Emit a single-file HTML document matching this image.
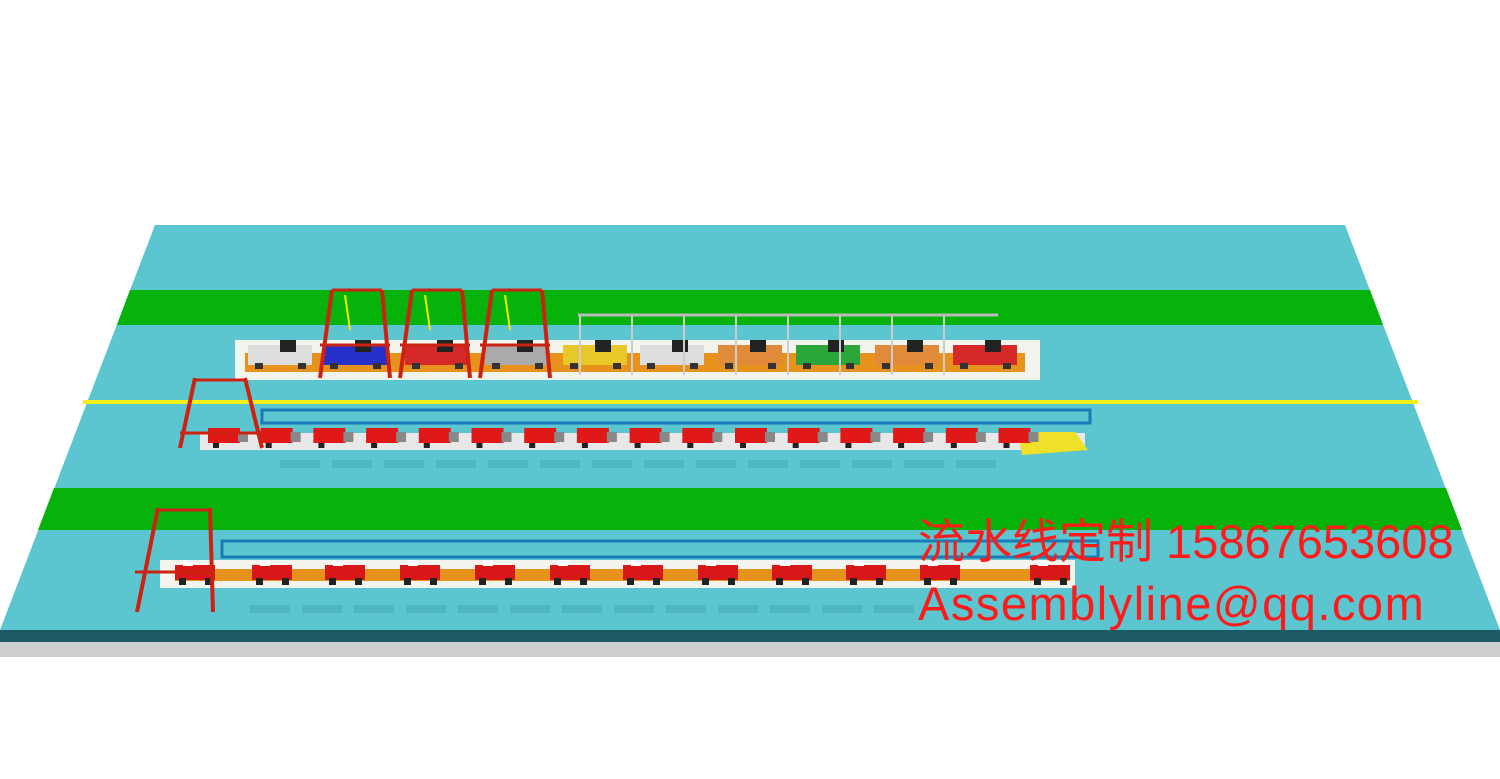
<!DOCTYPE html>
<html><head><meta charset="utf-8"><style>
html,body{margin:0;padding:0;background:#fff;width:1500px;height:779px;overflow:hidden}
svg{position:absolute;left:0;top:0}
.t{position:absolute;left:918px;color:#ff1a1a;font-family:"Liberation Sans","Noto Sans CJK SC",sans-serif;font-size:47px;white-space:nowrap;line-height:1}
</style></head><body>
<svg id="s" width="1500" height="779" viewBox="0 0 1500 779">
<rect x="0" y="630" width="1500" height="27" fill="#cfcfcf"/>
<rect x="0" y="630" width="1500" height="12" fill="#1c5a66"/>
<polygon points="155,225 1345,225 1500,630 0,630" fill="#5bc6d0"/>
<polygon points="130,290 1370,290 1383,325 117,325" fill="#07b20b"/>
<polygon points="54,488 1446,488 1462,530 38,530" fill="#07b20b"/>
<rect x="83" y="400" width="1335" height="4" fill="#f2ef1a"/>
<rect x="235" y="340" width="805" height="40" fill="#f4f4ee"/>
<rect x="245" y="353" width="780" height="19" fill="#e8921e"/>
<rect x="200" y="433" width="885" height="17" fill="#e8e8e8"/>
<polygon points="1018,432 1075,432 1088,450 1022,455" fill="#f0e02a"/>
<rect x="262" y="410" width="828" height="13" fill="none" stroke="#1a7ab8" stroke-width="3"/>
<rect x="160" y="560" width="915" height="28" fill="#f4f4ee"/>
<rect x="175" y="569" width="895" height="12" fill="#e8921e"/>
<rect x="222" y="541" width="876" height="16" fill="none" stroke="#1a7ab8" stroke-width="3"/>
<g id="g"></g>
<line x1="578" y1="315" x2="998" y2="315" stroke="#bbb" stroke-width="3"/>
</svg>
<div class="t" style="top:518px">流水线定制 15867653608</div>
<div class="t" style="top:580px;letter-spacing:1.5px">Assemblyline@qq.com</div>
<script>
var g=document.getElementById('g'),h='';
function r(x,y,w,hh,c){h+='<rect x="'+x+'" y="'+y+'" width="'+w+'" height="'+hh+'" fill="'+c+'"/>';}
function l(a,b,c,d,col,w){h+='<line x1="'+a+'" y1="'+b+'" x2="'+c+'" y2="'+d+'" stroke="'+col+'" stroke-width="'+w+'"/>';}
var c1=[280,355,437,517,595,672,750,828,907,985],cc=['#ddd','#2730c8','#d52828','#aaa','#e8c828','#ddd','#e08a3a','#2aa63a','#e08a3a','#d52828'];
c1.forEach(function(x,i){r(x-32,345,64,20,cc[i]);r(x,340,16,12,'#222');r(x-25,363,8,6,'#333');r(x+18,363,8,6,'#333');});
for(var x=580;x<=995;x+=52){l(x,315,x,375,'#ccc',2);}
[320,400,480].forEach(function(x){l(x+12,290,x,378,'#c21','4');l(x+62,290,x+70,378,'#c21',4);l(x+12,290,x+62,290,'#c21',3);l(x,345,x+70,345,'#c21',3);l(x+25,295,x+30,330,'#ee0',2);});
for(var x=228;x<=1020;x+=52.7){r(x-20,428,32,15,'#e01818');r(x+10,432,10,10,'#888');r(x-15,443,6,5,'#222');}
l(195,378,180,448,'#c21',4);l(245,378,262,448,'#c21',4);l(195,380,245,380,'#c21',3);l(180,433,262,433,'#c21',3);
[195,272,345,420,495,570,643,718,792,866,940,1050].forEach(function(x){r(x-20,565,40,15,'#d81818');r(x-12,560,10,6,'#fff');r(x-16,578,7,7,'#222');r(x+10,578,7,7,'#222');});
l(158,508,137,612,'#c21',4);l(210,508,213,612,'#c21',4);l(158,510,210,510,'#c21',3);l(135,572,215,572,'#c21',3);
for(var x=280;x<1000;x+=52)r(x,460,40,8,'#4fb5bf');
for(var x=250;x<900;x+=52)r(x,605,40,8,'#4fb5bf');
g.innerHTML=h;
</script>
</body></html>
